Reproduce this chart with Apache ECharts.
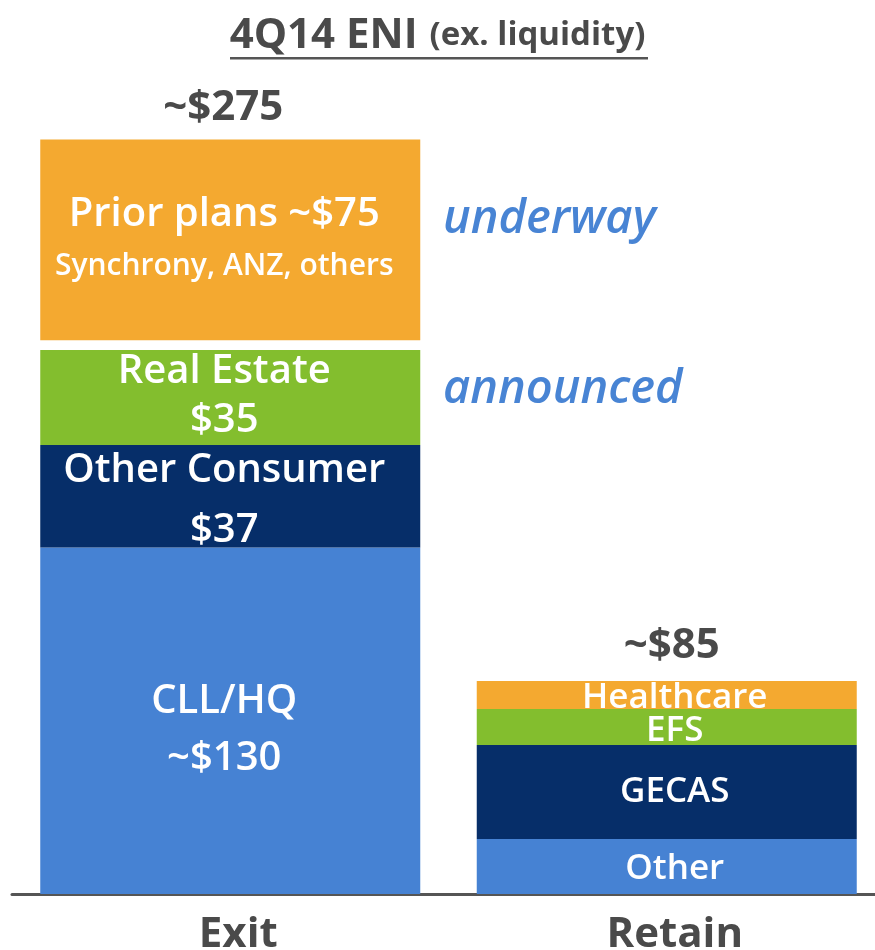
<!DOCTYPE html>
<html>
<head>
<meta charset="utf-8">
<title>4Q14 ENI</title>
<style>html,body{margin:0;padding:0;background:#fff}</style>
</head>
<body>
<div id="main" style="width:875px;height:950px;"></div>
<script src="https://cdn.jsdelivr.net/npm/echarts@6/dist/echarts.min.js"></script>
<script>
var categories = ['Exit', 'Retain'];
// stacked layers bottom -> top
var baseValues = [126.3, 20.0];
var midValues = [37.3, 34.3];
var upperValues = [34.6, 13.1];
var gapValues = [3.6, 0];
var topValues = [73.1, 10.2];
var totalLabels = ['~$275', '~$85'];
var baseLabels = [['CLL/HQ', '~$130'], ['Other']];
var midLabels = [['Other Consumer', '$37'], ['GECAS']];
var upperLabels = [['Real Estate', '$35'], ['EFS']];
var topLabels = [['Prior plans ~$75', 'Synchrony, ANZ, others'], ['Healthcare']];
var notes = ['underway', 'announced'];

var FONT = '"Open Sans", "DejaVu Sans", sans-serif';
var DARK = '#4a4a4a';
var NOTE = '#4884d4';

function richStyles(lh, subSize) {
	return {
		a: { fontSize: 40, fontWeight: 600, color: '#fff', fontFamily: FONT, lineHeight: lh },
		b: { fontSize: subSize || 40, fontWeight: 600, color: '#fff', fontFamily: FONT, lineHeight: lh },
		c: { fontSize: 35, fontWeight: 600, color: '#fff', fontFamily: FONT, lineHeight: 36 }
	};
}

// labels: Exit gets two lines, Retain one line
function makeFormatter(labels) {
	return function (p) {
		return labels[p.dataIndex].map(function (t, i) {
			var k = p.dataIndex === 0 ? (i === 0 ? 'a' : 'b') : 'c';
			return '{' + k + '|' + t + '}';
		}).join('\n');
	};
}

function layer(name, values, color, labels, lh, subSize, exitDy, retainDy) {
	return {
		name: name,
		type: 'bar',
		stack: 'eni',
		barWidth: 380,
		data: values.map(function (v, i) {
			return {
				value: v,
				label: { offset: i === 0 ? [-6, exitDy] : [8, retainDy] }
			};
		}),
		itemStyle: { color: color },
		label: {
			show: true,
			position: 'inside',
			formatter: makeFormatter(labels),
			rich: richStyles(lh, subSize)
		},
		emphasis: { disabled: true }
	};
}

var chart = echarts.init(document.getElementById('main'));
chart.setOption({
	animation: false,
	title: {
		text: '{a|4Q14 ENI}{b|(ex. liquidity)}',
		left: 'center',
		top: 6,
		textStyle: {
			rich: {
				a: { fontSize: 42, fontWeight: 'bold', color: DARK, fontFamily: FONT, lineHeight: 50 },
				b: { fontSize: 33, fontWeight: 'bold', color: DARK, fontFamily: FONT, lineHeight: 50, padding: [0, 0, 0, 12] }
			}
		}
	},
	grid: { left: 12, right: -10, top: 70.7, bottom: 56, outerBoundsMode: 'none' },
	xAxis: {
		type: 'category',
		data: categories,
		axisLine: { lineStyle: { color: '#555', width: 3 } },
		axisTick: { show: false },
		axisLabel: {
			fontSize: 42,
			fontWeight: 'bold',
			color: DARK,
			fontFamily: FONT,
			margin: 20,
			padding: [0, 0, 0, 16]
		}
	},
	yAxis: {
		type: 'value',
		min: 0,
		max: 300,
		show: false,
		splitLine: { show: false }
	},
	series: [
		layer('base', baseValues, '#4682d3', baseLabels, 57, 40, 9, 2),
		layer('mid', midValues, '#062e69', midLabels, 60, 40, 4, 0),
		layer('upper', upperValues, '#83be2e', upperLabels, 49, 40, -1, 4),
		{
			name: 'gap',
			type: 'bar',
			stack: 'eni',
			barWidth: 380,
			data: gapValues,
			itemStyle: { color: 'rgba(0,0,0,0)' },
			emphasis: { disabled: true }
		},
		layer('top', topValues, '#f4a930', topLabels, 52, 30, 1, 3),
		{
			name: 'total',
			type: 'bar',
			stack: 'eni',
			barWidth: 380,
			data: totalLabels.map(function (t, i) {
				return { value: 0, label: { offset: i === 0 ? [-7, 0] : [5, -3] } };
			}),
			itemStyle: { color: 'rgba(0,0,0,0)' },
			label: {
				show: true,
				position: 'top',
				distance: 11,
				formatter: function (p) { return totalLabels[p.dataIndex]; },
				fontSize: 42,
				fontWeight: 'bold',
				color: DARK,
				fontFamily: FONT
			},
			emphasis: { disabled: true }
		}
	],
	graphic: [
		{ type: 'rect', shape: { x: 230, y: 57, width: 418, height: 2.5 }, style: { fill: '#555' } },
		{
			type: 'text', left: 443, top: 196,
			style: { text: notes[0], fontSize: 47, fontWeight: 600, fontStyle: 'italic', fill: NOTE, fontFamily: FONT }
		},
		{
			type: 'text', left: 443, top: 366,
			style: { text: notes[1], fontSize: 47, fontWeight: 600, fontStyle: 'italic', fill: NOTE, fontFamily: FONT }
		}
	]
});
</script>
</body>
</html>
